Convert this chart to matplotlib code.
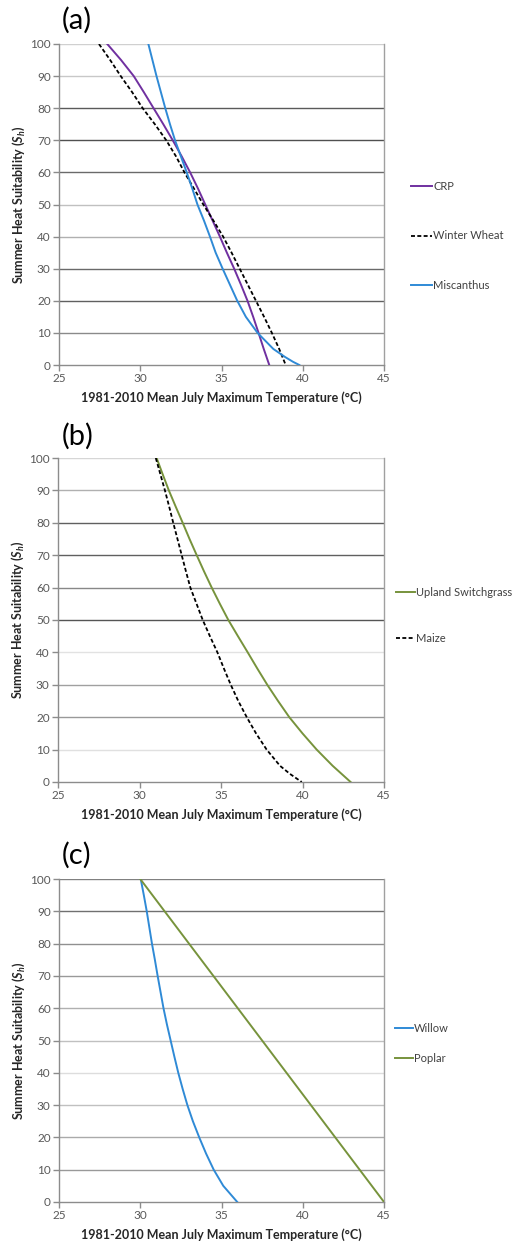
import matplotlib
matplotlib.use("Agg")
import matplotlib.pyplot as plt

plt.rcParams['font.family'] = ['Lato', 'DejaVu Sans']
plt.rcParams['mathtext.fontset'] = 'custom'
plt.rcParams['mathtext.rm'] = 'Lato:bold'
plt.rcParams['mathtext.it'] = 'Lato:italic:bold'
plt.rcParams['mathtext.bf'] = 'Lato:bold'

# ---------------- data ----------------
suit_5 = [100, 95, 90, 85, 80, 75, 70, 65, 60, 55, 50, 45, 40, 35, 30, 25, 20, 15, 10, 5, 0]

# panel (a)
crp_temp = [27.97, 28.82, 29.6, 30.22, 30.82, 31.42, 32.0, 32.55, 33.07, 33.55, 34.0,
            34.45, 34.9, 35.33, 35.78, 36.2, 36.6, 36.95, 37.28, 37.6, 37.94]
crp_suit = suit_5
wheat_temp = [27.46, 28.15, 28.8, 29.5, 30.15, 30.9, 31.6, 32.2, 32.72, 33.3, 33.88,
              34.5, 35.1, 35.62, 36.12, 36.62, 37.12, 37.62, 38.1, 38.55, 38.95]
wheat_suit = suit_5
misc_temp = [30.5, 30.75, 31.0, 31.27, 31.54, 31.83, 32.14, 32.5, 32.86, 33.2, 33.52,
             33.92, 34.29, 34.64, 35.07, 35.52, 35.97, 36.5, 37.22, 38.19, 38.91, 39.4, 39.79]
misc_suit = [100, 95, 90, 85, 80, 75, 70, 65, 60, 55, 50, 45, 40, 35, 30, 25, 20, 15, 10, 5, 2.5, 1, 0]

# panel (b)
switch_temp = [31.05, 31.42, 31.8, 32.22, 32.65, 33.07, 33.51, 33.96, 34.43, 34.93, 35.45,
               36.04, 36.64, 37.23, 37.84, 38.5, 39.19, 40.0, 40.87, 41.85, 42.95]
switch_suit = suit_5
maize_temp = [31.0, 31.28, 31.56, 31.82, 32.07, 32.33, 32.59, 32.85, 33.12, 33.5, 33.88,
              34.32, 34.78, 35.18, 35.6, 36.06, 36.58, 37.15, 37.8, 38.62, 39.23, 39.95]
maize_suit = [100, 95, 90, 85, 80, 75, 70, 65, 60, 55, 50, 45, 40, 35, 30, 25, 20, 15, 10, 5, 2.5, 0]

# panel (c)
willow_temp = [30.03, 30.22, 30.4, 30.56, 30.72, 30.9, 31.07, 31.25, 31.43, 31.64, 31.87,
               32.1, 32.34, 32.61, 32.9, 33.24, 33.63, 34.05, 34.52, 35.11, 35.97]
willow_suit = suit_5
poplar_temp = [30.0, 45.0]
poplar_suit = [100, 0]

x_ticks = [25, 30, 35, 40, 45]
y_ticks = [0, 10, 20, 30, 40, 50, 60, 70, 80, 90, 100]
panel_labels = ["(a)", "(b)", "(c)"]
x_label = "1981-2010 Mean July Maximum Temperature (°C)"
y_label = r"Summer Heat Suitability ($S_h$)"

# ---------------- style ----------------
PURPLE = "#7030a0"
BLUE = "#2f8ad6"
GREEN = "#77933c"
TICKC = "#595959"

# gridline grey tones (10..100) per panel, as seen in the scan
grid_a = ["#8a8a8a", "#606060", "#6a6a6a", "#b0b0b0", "#c0c0c0", "#6a6a6a", "#505050", "#5a5a5a", "#c8c8c8", "#d0d0d0"]
grid_b = ["#e0e0e0", "#999999", "#a0a0a0", "#e2e2e2", "#555555", "#888888", "#606060", "#606060", "#b0b0b0", "#d6d6d6"]
grid_c = ["#999999", "#aaaaaa", "#c0c0c0", "#dddddd", "#c0c0c0", "#b0b0b0", "#999999", "#909090", "#707070", "#808080"]

W, H = 518, 1247
fig = plt.figure(figsize=(W / 100, H / 100), dpi=100)

def make_axes(top_px, bot_px, left_px=59, right_px=384):
    return fig.add_axes([left_px / W, 1 - bot_px / H, (right_px - left_px) / W, (bot_px - top_px) / H])

def style(ax, grid_cols, label, label_y):
    ax.set_xlim(25, 45)
    ax.set_ylim(0, 100)
    ax.set_xticks(x_ticks)
    ax.set_yticks(y_ticks)
    for lvl, c in zip(y_ticks[1:], grid_cols):
        ax.axhline(lvl, color=c, lw=1.0, zorder=1)
    ax.spines["top"].set_visible(False)
    ax.spines["right"].set_color("#a0a0a0")
    ax.spines["left"].set_color("#8c8c8c")
    ax.spines["bottom"].set_color("#8c8c8c")
    for s in ["right", "left", "bottom"]:
        ax.spines[s].set_linewidth(1.0)
    ax.tick_params(axis="both", direction="out", length=4, width=1.0, color="#8c8c8c",
                   labelcolor=TICKC, labelsize=8.5, pad=2)
    ax.set_xlabel(x_label, fontsize=9, fontweight="bold", color="#262626", labelpad=5)
    ax.set_ylabel(y_label, fontsize=9, fontweight="bold", color="#262626", labelpad=2)
    fig.text(62 / W, 1 - label_y / H, label, fontsize=21, color="black", va="center", ha="left")

def legend(ax, x_anchor, y_anchor, spacing, hlen):
    leg = ax.legend(loc="center left", bbox_to_anchor=(x_anchor, y_anchor), frameon=False,
                    fontsize=8, handlelength=hlen, handletextpad=0.1, labelspacing=spacing,
                    borderaxespad=0)
    for t in leg.get_texts():
        t.set_color("#404040")

# panel (a)
ax1 = make_axes(44, 365)
ax1.plot(crp_temp, crp_suit, color=PURPLE, lw=1.4, label="CRP", zorder=3)
ax1.plot(wheat_temp, wheat_suit, color="black", lw=1.3, ls=(0, (2.2, 1.3)), label="Winter Wheat", zorder=3)
ax1.plot(misc_temp, misc_suit, color=BLUE, lw=1.4, label="Miscanthus", zorder=3)
style(ax1, grid_a, panel_labels[0], 20)
legend(ax1, 1.07, 0.402, 3.5, 1.9)

# panel (b)
ax2 = make_axes(458, 782, 58, 384)
ax2.plot(switch_temp, switch_suit, color=GREEN, lw=1.4, label="Upland Switchgrass", zorder=3)
ax2.plot(maize_temp, maize_suit, color="black", lw=1.3, ls=(0, (2.2, 1.3)), label="Maize", zorder=3)
style(ax2, grid_b, panel_labels[1], 436)
legend(ax2, 1.023, 0.514, 3.15, 1.7)

# panel (c)
ax3 = make_axes(879, 1202)
ax3.plot(willow_temp, willow_suit, color=BLUE, lw=1.4, label="Willow", zorder=3)
ax3.plot(poplar_temp, poplar_suit, color=GREEN, lw=1.4, label="Poplar", zorder=3)
style(ax3, grid_c, panel_labels[2], 855)
legend(ax3, 1.02, 0.491, 1.7, 1.6)

fig.savefig("out.png", dpi=100, facecolor="white")
